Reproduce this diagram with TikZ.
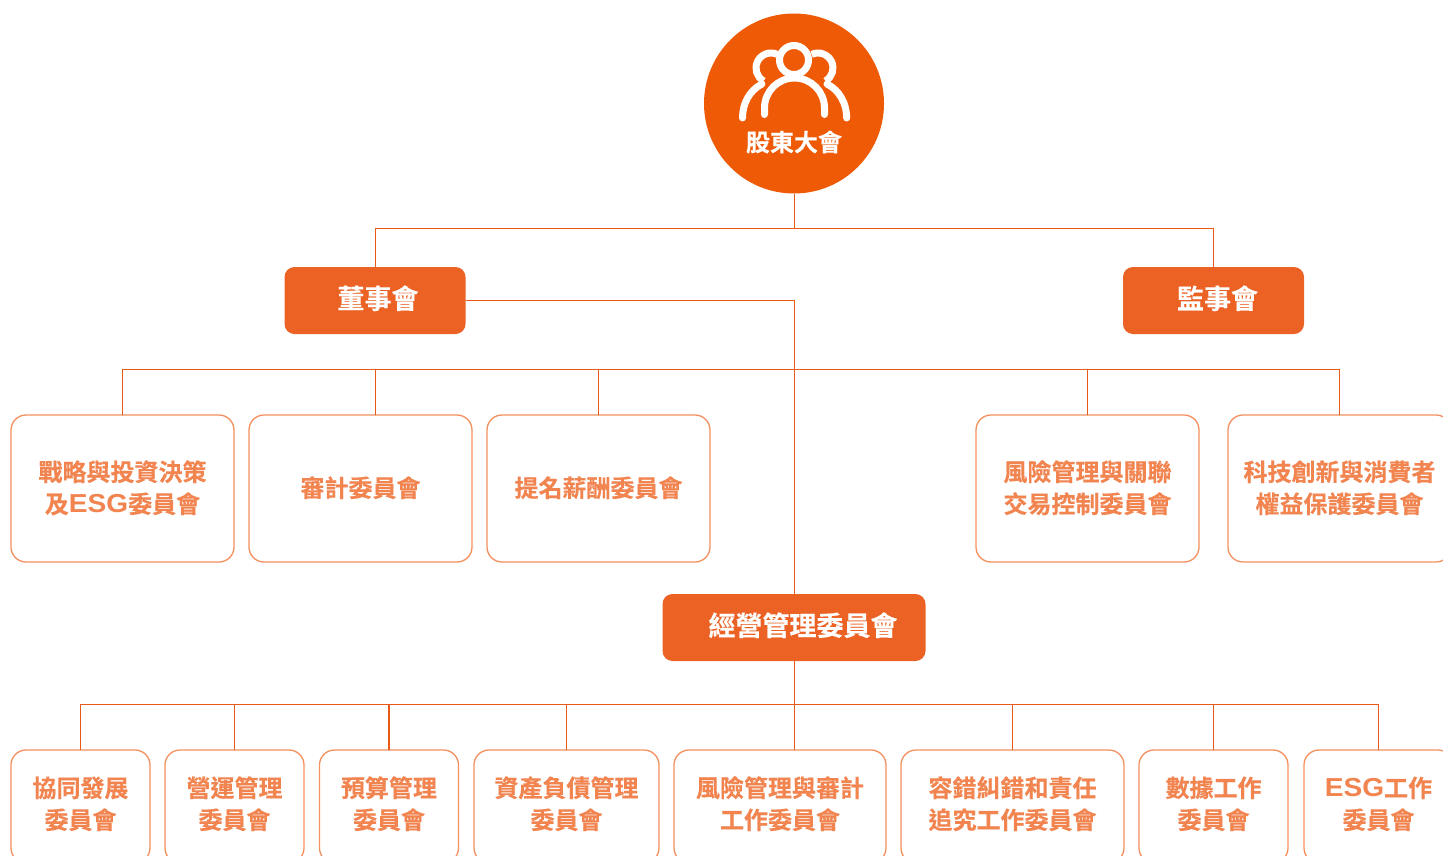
\documentclass[tikz,border=0pt]{standalone}
\usepackage{fontspec}
\setmainfont{Noto Sans CJK TC Bold}[FakeBold=0.25]
\newfontfamily\latinb{Liberation Sans Bold}[FakeStretch=1.08]
\definecolor{gmc}{HTML}{EE5A06}
\definecolor{headc}{HTML}{EC6224}
\definecolor{linec}{HTML}{E85A16}
\definecolor{edgec}{HTML}{F4905F}
\definecolor{textc}{HTML}{F28450}
\tikzset{
  link/.style={draw=linec,line width=1.4pt},
  headbox/.style={rectangle,rounded corners=10pt,fill=headc,text=white,inner sep=0pt,outer sep=0pt,minimum height=67pt,align=center,font=\fontsize{27}{32}\selectfont},
  combox/.style={rectangle,rounded corners=15pt,draw=edgec,line width=1.3pt,fill=white,text=textc,inner sep=0pt,outer sep=0pt,minimum height=147pt,align=center,font=\fontsize{24}{32}\selectfont},
  lowbox/.style={combox,minimum height=113pt},
  icon/.style={draw=white,line width=7pt,line cap=round},
}
\newcommand{\up}[1]{\raisebox{3.5pt}{\begin{tabular}{@{}c@{}}#1\end{tabular}}}
\newcommand{\midup}[1]{\raisebox{0pt}[\dimexpr\height+4pt\relax][\depth]{\begin{tabular}{@{}c@{}}#1\end{tabular}}}
\newcommand{\headup}[2]{\hspace*{#1}\raisebox{7pt}{#2}}
\newcommand{\esg}{{\latinb\fontsize{26}{32}\selectfont ESG}}
\begin{document}
\begin{tikzpicture}[x=1pt,y=-1pt]
\useasboundingbox (0,0) rectangle (1443,855);
\clip (0,0) rectangle (1443,855);
\renewcommand{\arraystretch}{1}
\setlength{\tabcolsep}{0pt}
% nodes
\node[circle,fill=gmc,minimum size=180pt,inner sep=0pt,outer sep=0pt] (gm) at (794,103.5) {};
\node[text=white,font=\fontsize{24}{28}\selectfont,inner sep=0pt] (gmt) at (794,142) {股東大會};
\node[headbox,minimum width=181pt] (board) at (375,300.5) {\headup{6pt}{董事會}};
\node[headbox,minimum width=181pt] (sup) at (1213.5,300.5) {\headup{8pt}{監事會}};
\node[headbox,minimum width=263pt] (mgmt) at (794,627.5) {\headup{18pt}{經營管理委員會}};
\node[combox,minimum width=223pt] (c1) at (122.5,488.5) {\midup{戰略與投資決策\\及\esg 委員會}};
\node[combox,minimum width=223pt] (c2) at (360.5,488.5) {\midup{審計委員會}};
\node[combox,minimum width=223pt] (c3) at (598.5,488.5) {\midup{提名薪酬委員會}};
\node[combox,minimum width=223pt] (c4) at (1087.5,488.5) {\midup{風險管理與關聯\\交易控制委員會}};
\node[combox,minimum width=223pt] (c5) at (1339.5,488.5) {\midup{科技創新與消費者\\權益保護委員會}};
\node[lowbox,minimum width=139pt] (w1) at (80.5,806.5) {\up{協同發展\\委員會}};
\node[lowbox,minimum width=139pt] (w2) at (234.5,806.5) {\up{營運管理\\委員會}};
\node[lowbox,minimum width=139pt] (w3) at (389,806.5) {\up{預算管理\\委員會}};
\node[lowbox,minimum width=185pt] (w4) at (566.5,806.5) {\up{資產負債管理\\委員會}};
\node[lowbox,minimum width=212pt] (w5) at (780,806.5) {\up{風險管理與審計\\工作委員會}};
\node[lowbox,minimum width=223pt] (w6) at (1012.5,806.5) {\up{容錯糾錯和責任\\追究工作委員會}};
\node[lowbox,minimum width=149pt] (w7) at (1213.5,806.5) {\up{數據工作\\委員會}};
\node[lowbox,minimum width=149pt] (w8) at (1378.5,806.5) {\up{\esg 工作\\委員會}};
% junctions
\coordinate (j1) at (794.5,228.5);
\coordinate (j2) at (794.5,369.5);
\coordinate (j3) at (794.5,704.5);
\coordinate (bx) at ([xshift=0.5pt]board.north);
% connectors
\draw[link] (gm.south -| j1) -- (j1);
\draw[link] (bx) |- (j1) -| (sup.north);
\draw[link] (board.east) -| (mgmt.north -| j1);
\draw[link] (c1.north) |- (j2) -| (c5.north);
\draw[link] (j2 -| bx) -- (c2.north -| bx);
\draw[link] (j2 -| c3.north) -- (c3.north);
\draw[link] (j2 -| c4.north) -- (c4.north);
\draw[link] (mgmt.south -| j3) -- (j3);
\draw[link] (w1.north) |- (j3) -| (w8.north);
\draw[link] (j3 -| w2.north) -- (w2.north);
\draw[link] (j3 -| w3.north) -- (w3.north);
\draw[link] (j3 -| w4.north) -- (w4.north);
\draw[link] (j3) -- (w5.north -| j3);
\draw[link] (j3 -| w6.north) -- (w6.north);
\draw[link] (j3 -| w7.north) -- (w7.north);
% icon
\draw[icon,line cap=butt] (794,60) circle (14.5);
\draw[icon,line cap=butt] ([shift={(-65:15)}]771,68) arc[start angle=-65,end angle=-240,radius=15];
\draw[icon,line cap=butt] ([shift={(-115:15)}]818,68) arc[start angle=-115,end angle=60,radius=15];
\draw[icon] (764.5,114.5) -- (764.5,108) arc[start angle=180,end angle=360,radius=30] -- (824.5,114.5);
\draw[icon] (742.5,118) .. controls (742.5,103) and (750,90) .. (762,84);
\draw[icon] (846.7,118) .. controls (846.7,103) and (839,90) .. (827,84);
\end{tikzpicture}
\end{document}
